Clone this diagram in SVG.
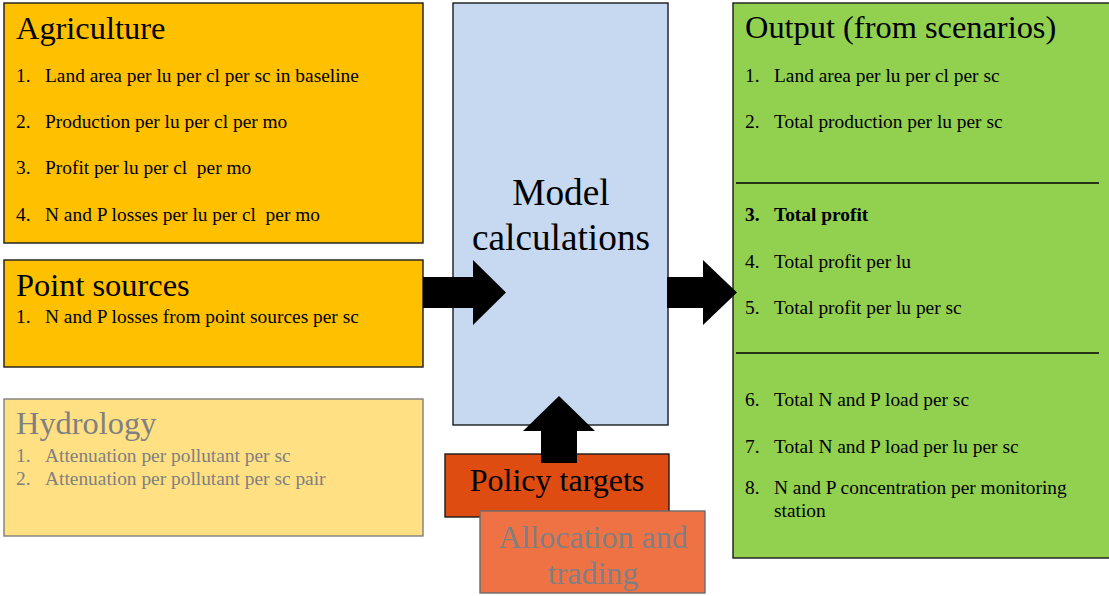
<svg xmlns="http://www.w3.org/2000/svg" width="1109" height="596" viewBox="0 0 1109 596">
<style>
.t{font-size:32.4px}
.i{font-size:19.4px}
.g{fill:#808080}
.box{stroke:#1a1a1a;stroke-width:1.4}
.arr{fill:#000}
</style>
<rect width="1109" height="596" fill="#fff"/>
<g font-family="Liberation Serif, Tinos, Times New Roman, DejaVu Serif, serif" fill="#000">
<g id="agriculture">
<rect class="box" x="4" y="3" width="419" height="240" fill="#FFC000"/>
<text class="t" x="16" y="39">Agriculture</text>
<text class="i" x="16" y="82">1.</text><text class="i" x="45" y="82">Land area per lu per cl per sc in baseline</text>
<text class="i" x="16" y="128">2.</text><text class="i" x="45" y="128">Production per lu per cl per mo</text>
<text class="i" x="16" y="174">3.</text><text class="i" x="45" y="174" xml:space="preserve">Profit per lu per cl  per mo</text>
<text class="i" x="16" y="221">4.</text><text class="i" x="45" y="221" xml:space="preserve">N and P losses per lu per cl  per mo</text>
</g>
<g id="point-sources">
<rect class="box" x="4" y="260" width="419" height="107" fill="#FFC000"/>
<text class="t" x="16" y="296">Point sources</text>
<text class="i" x="16" y="323">1.</text><text class="i" x="45" y="323">N and P losses from point sources per sc</text>
</g>
<g id="hydrology">
<rect x="4" y="399" width="419" height="137" fill="#FFE083" stroke="#7f7f7f" stroke-width="1.4"/>
<text class="t g" x="16" y="434">Hydrology</text>
<text class="i g" x="16" y="462">1.</text><text class="i g" x="45" y="462">Attenuation per pollutant per sc</text>
<text class="i g" x="16" y="485">2.</text><text class="i g" x="45" y="485">Attenuation per pollutant per sc pair</text>
</g>
<g id="model">
<rect class="box" x="453" y="3" width="215" height="422" fill="#C6D9F1"/>
<text x="561" y="205" text-anchor="middle" font-size="37.3">Model</text>
<text x="561" y="250" text-anchor="middle" font-size="37.3">calculations</text>
</g>
<g id="output">
<rect class="box" x="733" y="3" width="390" height="555" fill="#92D050"/>
<line x1="736" y1="183" x2="1099" y2="183" stroke="#000" stroke-width="1.4"/>
<line x1="736" y1="353" x2="1099" y2="353" stroke="#000" stroke-width="1.4"/>
<text class="t" x="745" y="38">Output (from scenarios)</text>
<text class="i" x="745" y="82">1.</text><text class="i" x="774" y="82">Land area per lu per cl per sc</text>
<text class="i" x="745" y="128">2.</text><text class="i" x="774" y="128">Total production per lu per sc</text>
<text class="i" x="745" y="221" font-weight="bold">3.</text><text class="i" x="774" y="221" font-weight="bold">Total profit</text>
<text class="i" x="745" y="268">4.</text><text class="i" x="774" y="268">Total profit per lu</text>
<text class="i" x="745" y="314">5.</text><text class="i" x="774" y="314">Total profit per lu per sc</text>
<text class="i" x="745" y="406">6.</text><text class="i" x="774" y="406">Total N and P load per sc</text>
<text class="i" x="745" y="453">7.</text><text class="i" x="774" y="453">Total N and P load per lu per sc</text>
<text class="i" x="745" y="494">8.</text><text class="i" x="774" y="494">N and P concentration per monitoring</text>
<text class="i" x="774" y="517">station</text>
</g>
<g id="policy-targets">
<rect class="box" x="445" y="454" width="224" height="63" fill="#DE4C12"/>
<text x="557" y="491" text-anchor="middle" font-size="32">Policy targets</text>
</g>
<g id="allocation">
<rect x="480" y="511" width="225" height="82" fill="#EF7244" stroke="#6b6b6b" stroke-width="1.4"/>
<text class="g" x="593" y="548" text-anchor="middle" font-size="32">Allocation and</text>
<text class="g" x="593" y="584" text-anchor="middle" font-size="32">trading</text>
</g>
</g>
<g id="connectors">
<polygon class="arr" points="423,277 473,277 473,260 506,292.5 473,325 473,308 423,308"/>
<polygon class="arr" points="667,277 703,277 703,260 737,292.5 703,325 703,308 667,308"/>
<polygon class="arr" points="541,463 541,431 523,431 559,396 595,431 577,431 577,463"/>
</g>
</svg>
